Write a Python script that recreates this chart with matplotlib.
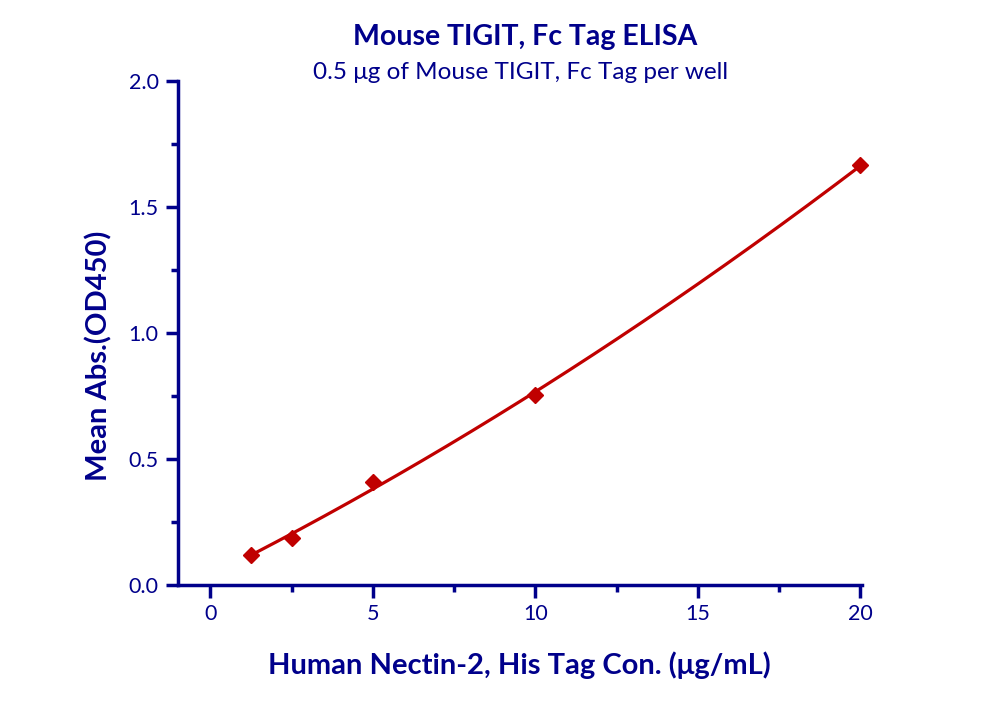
import numpy as np
import matplotlib
matplotlib.use("Agg")
import matplotlib.pyplot as plt
from matplotlib.ticker import MultipleLocator

conc = [1.25, 2.5, 5, 10, 20]
od450 = [0.119, 0.188, 0.407, 0.754, 1.665]
title = "Mouse TIGIT, Fc Tag ELISA"
subtitle = "0.5 μg of Mouse TIGIT, Fc Tag per well"
xlabel = "Human Nectin-2, His Tag Con. (μg/mL)"
ylabel = "Mean Abs.(OD450)"

navy = "#00008B"
red = "#C00000"
plt.rcParams['font.family'] = ['Lato', 'DejaVu Sans']

fig = plt.figure(figsize=(10, 7.02), dpi=100)
ax = fig.add_axes([0.178, 0.1667, 0.684, 0.718])

# fitted curve: least-squares quadratic through the measured points
coef = np.polyfit(conc, od450, 2)
xs = np.linspace(min(conc), max(conc), 200)
ax.plot(conc, od450, linestyle='none', marker='D', markersize=8.5, color=red, zorder=3, clip_on=False)
ax.plot(xs, np.polyval(coef, xs), color=red, lw=2.3, zorder=4, clip_on=False)

ax.set_xlim(-1, 20.05)
ax.set_ylim(0, 2.0)
ax.xaxis.set_major_locator(MultipleLocator(5))
ax.xaxis.set_minor_locator(MultipleLocator(2.5))
ax.yaxis.set_major_locator(MultipleLocator(0.5))
ax.yaxis.set_minor_locator(MultipleLocator(0.25))
ax.xaxis.set_major_formatter(matplotlib.ticker.FormatStrFormatter('%d'))
ax.yaxis.set_major_formatter(matplotlib.ticker.FormatStrFormatter('%.1f'))

for s in ['top', 'right']:
    ax.spines[s].set_visible(False)
for s in ['left', 'bottom']:
    ax.spines[s].set_color(navy)
    ax.spines[s].set_linewidth(2.5)

ax.tick_params(which='major', direction='out', length=9, width=2.5, color=navy,
               labelcolor=navy, labelsize=15.5, pad=5)
ax.tick_params(which='minor', direction='out', length=5, width=2.5, color=navy)

fig.text(0.525, 0.947, title, ha='center', va='center', fontsize=20.5, fontweight='bold', color=navy)
fig.text(0.521, 0.897, subtitle, ha='center', va='center', fontsize=17.5, color=navy)
fig.text(0.519, 0.053, xlabel, ha='center', va='center', fontsize=21, fontweight='bold', color=navy)
fig.text(0.099, 0.493, ylabel, ha='center', va='center', rotation=90, fontsize=21, fontweight='bold', color=navy)

fig.savefig("out.png", dpi=100)
